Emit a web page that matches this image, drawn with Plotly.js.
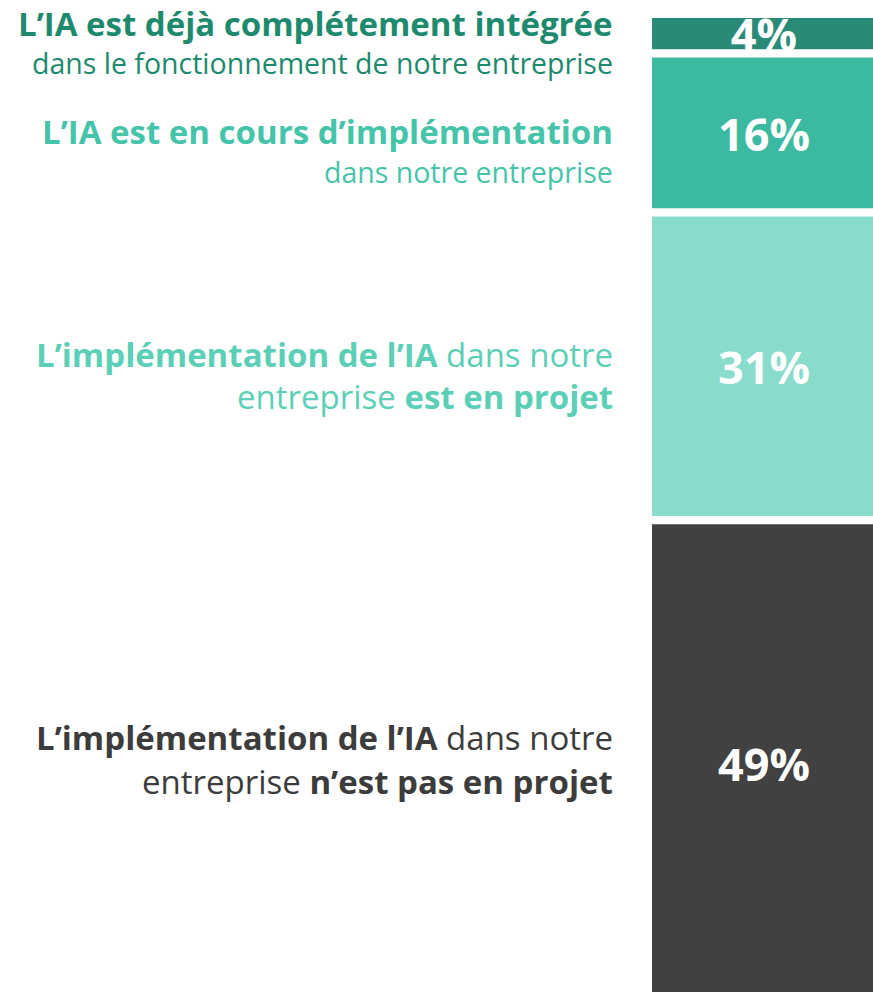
<!DOCTYPE html>
<html>
<head>
<meta charset="utf-8">
<script src="https://cdn.plot.ly/plotly-3.0.1.min.js"></script>
<style>html,body{margin:0;padding:0;background:#fff;}#chart{width:873px;height:992px;}</style>
</head>
<body>
<div id="chart"></div>
<script>
// ---- data ----
const values = [4, 16, 31, 49];
const valueLabels = ["4%", "16%", "31%", "49%"];
const labelLine1 = [
  "<b>L’IA est déjà complétement intégrée</b>",
  "<b>L’IA est en cours d’implémentation</b>",
  "<b>L’implémentation de l’IA</b> dans notre",
  "<b>L’implémentation de l’IA</b> dans notre"
];
const labelLine2 = [
  "dans le fonctionnement de notre entreprise",
  "dans notre entreprise",
  "entreprise <b>est en projet</b>",
  "entreprise <b>n’est pas en projet</b>"
];

// ---- style ----
const barColors = ["#2a8a78", "#3bb9a1", "#89dbcb", "#414141"];
const labelColors = ["#1d8a6d", "#46c4aa", "#5ccfb7", "#3c3c3c"];
const line1Px = [23, 131, 354, 737];
const line2Px = [63, 172, 397, 781];
const line1Size = [33, 33, 33, 33];
const line2Size = [28.5, 28.5, 33, 33];
const W = 873, H = 992;

const bases = [];
let acc = 0;
values.forEach(v => { bases.push(acc); acc += v; });

const trace = {
  type: "bar",
  x: values.map(() => 0),
  y: values,
  base: bases,
  width: values.map(() => 1),
  marker: { color: barColors, line: { color: "#ffffff", width: 8 } },
  text: valueLabels,
  textposition: "inside",
  insidetextanchor: "middle",
  constraintext: "none",
  textangle: 0,
  textfont: { family: "Open Sans", size: 45, color: "#ffffff", weight: 700 },
  hoverinfo: "none"
};

const annotations = [];
labelLine1.forEach((t, i) => {
  annotations.push({
    xref: "paper", yref: "paper", x: 613 / W, y: 1 - line1Px[i] / H,
    xanchor: "right", yanchor: "middle", showarrow: false, align: "right",
    borderpad: 0, borderwidth: 0,
    text: t, font: { family: "Open Sans", size: line1Size[i], color: labelColors[i] }
  });
  annotations.push({
    xref: "paper", yref: "paper", x: 613 / W, y: 1 - line2Px[i] / H,
    xanchor: "right", yanchor: "middle", showarrow: false, align: "right",
    borderpad: 0, borderwidth: 0,
    text: labelLine2[i], font: { family: "Open Sans", size: line2Size[i], color: labelColors[i] }
  });
});

const layout = {
  width: W, height: H,
  margin: { l: 0, r: 0, t: 0, b: 0, pad: 0 },
  paper_bgcolor: "#ffffff", plot_bgcolor: "rgba(0,0,0,0)",
  showlegend: false, barmode: "overlay", hovermode: false,
  xaxis: { domain: [648 / W, 1], range: [-0.5, 0.47], visible: false, fixedrange: true },
  yaxis: { domain: [0, 1], range: [98.5, -1.4], visible: false, fixedrange: true },
  annotations: annotations
};

Plotly.newPlot("chart", [trace], layout, { displayModeBar: false, staticPlot: true });
</script>
</body>
</html>
